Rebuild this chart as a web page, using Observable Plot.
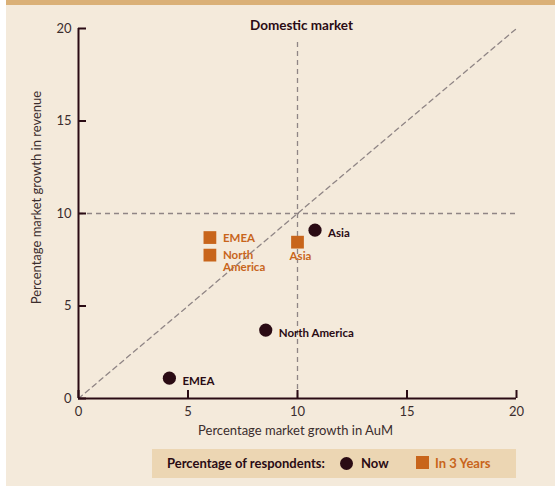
<!DOCTYPE html>
<html><head><meta charset="utf-8">
<script src="https://cdn.jsdelivr.net/npm/d3@7"></script>
<script src="https://cdn.jsdelivr.net/npm/@observablehq/plot@0.6"></script>
<style>
body{margin:0;background:#fff;}
#wrap{position:relative;width:555px;height:486px;overflow:hidden;font-family:Lato,"Open Sans",sans-serif;}
#bg{position:absolute;left:6px;top:0;width:549px;height:486px;background:#f4eadb;}
#band{position:absolute;left:6px;top:0;width:549px;height:5px;background:#dab077;}
#chart{position:absolute;left:0;top:0;}
#legend{position:absolute;left:152px;top:449px;width:364px;height:29px;background:#ecd6b3;font-weight:bold;font-size:13px;color:#2a0b14;}
#legend span{position:absolute;top:0;line-height:29px;white-space:nowrap;}
#legend .dot{position:absolute;left:188px;top:8px;width:13px;height:13px;border-radius:50%;background:#2a0b14;}
#legend .sq{position:absolute;left:264px;top:7px;width:13px;height:13px;background:#c8651b;}
</style>
</head><body>
<div id="wrap">
  <div id="bg"></div>
  <div id="band"></div>
  <div id="chart"></div>
  <div id="legend">
    <span style="left:15px">Percentage of respondents:</span>
    <div class="dot"></div>
    <span style="left:209px">Now</span>
    <div class="sq"></div>
    <span style="left:283px;color:#c8651b">In 3 Years</span>
  </div>
</div>
<script>
const regions = ["EMEA", "North America", "Asia"];
const nowX = [4.15, 8.55, 10.8];
const nowY = [1.1, 3.7, 9.1];
const futureX = [6.0, 6.0, 10.0];
const futureY = [8.7, 7.75, 8.45];
const futureLabels = ["EMEA", "North\nAmerica", "Asia"];
const xTicks = [0, 5, 10, 15, 20];
const yTicks = [0, 5, 10, 15, 20];
const refX = [10];
const refY = [10];
const diagonal = [{x: 0, y: 0}, {x: 20, y: 20}];
const title = "Domestic market";
const xLabel = "Percentage market growth in AuM";
const yLabel = "Percentage market growth in revenue";

const now = regions.map((r, i) => ({region: r, x: nowX[i], y: nowY[i]}));
const future = regions.map((r, i) => ({region: r, label: futureLabels[i], x: futureX[i], y: futureY[i]}));

const dark = "#2a0b14";
const orange = "#c8651b";
const dash = "#8f8585";
const tickText = "#3b2d2d";

const chart = Plot.plot({
  width: 555,
  height: 440,
  marginLeft: 78,
  marginRight: 39,
  marginTop: 28,
  marginBottom: 42,
  style: {background: "transparent", fontFamily: "Lato, 'Open Sans', sans-serif", fontSize: "13px", color: tickText},
  x: {domain: [0, 20]},
  y: {domain: [0, 20]},
  marks: [
    Plot.ruleY(refY, {y: d => d, x1: 0, x2: 20, stroke: dash, strokeWidth: 1.3, strokeDasharray: "5,4"}),
    Plot.ruleX(refX, {x: d => d, y1: 0, y2: 19.3, stroke: dash, strokeWidth: 1.3, strokeDasharray: "5,4"}),
    Plot.line(diagonal, {x: "x", y: "y", stroke: dash, strokeWidth: 1.3, strokeDasharray: "5,4"}),
    Plot.ruleX([0], {y1: 0, y2: 20, stroke: dark, strokeWidth: 2}),
    Plot.ruleY([0], {x1: 0, x2: 20, stroke: dark, strokeWidth: 2}),
    Plot.axisX(xTicks, {tickSize: -8, tickPadding: 16, stroke: dark, strokeWidth: 2, fill: tickText, label: null}),
    Plot.axisY(yTicks, {tickSize: -8, tickPadding: 15, stroke: dark, strokeWidth: 2, fill: tickText, label: null}),
    Plot.text([xLabel], {frameAnchor: "bottom", text: d => d, dy: 36, dx: -2, fill: tickText, fontSize: 13}),
    Plot.text([yLabel], {frameAnchor: "left", textAnchor: "middle", text: d => d, rotate: -90, dx: -42, dy: -16, fill: tickText, fontSize: 13}),
    Plot.text([title], {frameAnchor: "top", text: d => d, dy: -8, dx: 4, fill: dark, fontWeight: "bold", fontSize: 13.5}),
    Plot.dot(now, {x: "x", y: "y", r: 6.6, fill: dark, stroke: null}),
    Plot.dot(future, {x: "x", y: "y", r: 7.2, symbol: "square", fill: orange, stroke: null}),
    Plot.text(now, {x: "x", y: "y", text: "region", textAnchor: "start", dx: 13, dy: 3, fill: dark, fontWeight: "bold", fontSize: 11.5}),
    Plot.text(future, {filter: d => d.region !== "Asia", x: "x", y: "y", text: "label", textAnchor: "start", lineAnchor: "top", dx: 13, dy: -4, lineHeight: 1.0, fill: orange, fontWeight: "bold", fontSize: 11.5}),
    Plot.text(future, {filter: d => d.region === "Asia", x: "x", y: "y", text: "label", textAnchor: "middle", lineAnchor: "top", dx: 3, dy: 10, fill: orange, fontWeight: "bold", fontSize: 11.5})
  ]
});
document.getElementById("chart").appendChild(chart);
</script>
</body></html>
